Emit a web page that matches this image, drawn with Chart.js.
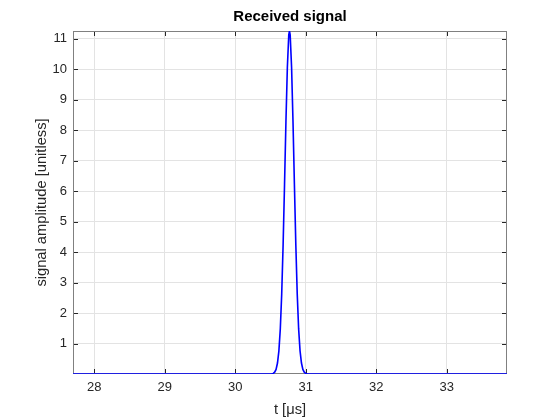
<!DOCTYPE html>
<html>
<head>
<meta charset="utf-8">
<script src="https://cdn.jsdelivr.net/npm/chart.js@4"></script>
<style>
  html, body { margin: 0; background: #fff; }
</style>
</head>
<body>
<canvas id="chart" width="560" height="420"></canvas>
<script>
// time axis [µs] and received amplitude
const tValues = [27.70, 30.48, 30.50, 30.52, 30.54, 30.56, 30.58, 30.60, 30.62, 30.64,
                 30.66, 30.68, 30.70, 30.72, 30.74, 30.76, 30.77, 30.78, 30.80, 30.82,
                 30.84, 30.86, 30.88, 30.90, 30.92, 30.94, 30.96, 30.98, 31.00, 31.02,
                 31.04, 31.06, 33.855];
const amplitude = [0, 0, 0.002, 0.006, 0.02, 0.06, 0.15, 0.36, 0.76, 1.48,
                   2.63, 4.25, 6.22, 8.29, 10.06, 11.13, 11.26, 11.13, 10.06, 8.29,
                   6.22, 4.25, 2.63, 1.48, 0.76, 0.36, 0.15, 0.06, 0.02, 0.006,
                   0.002, 0, 0];
const xTicks = [28, 29, 30, 31, 32, 33];
const yTicks = [1, 2, 3, 4, 5, 6, 7, 8, 9, 10, 11];
const xLimits = [27.70, 33.855];
const yLimits = [0, 11.26];

const FONT = "'Liberation Sans', Arial, Helvetica, sans-serif";
const AXIS_COLOR = "#262626";

// MATLAB-like box with inward ticks
const boxPlugin = {
    id: "box",
    beforeDatasetsDraw(chart) {
        const { ctx, chartArea: a, scales } = chart;
        ctx.save();
        ctx.strokeStyle = "#262626";
        ctx.lineWidth = 1;
        ctx.beginPath();
        xTicks.forEach(v => {
            const px = Math.round(scales.x.getPixelForValue(v)) + 0.5;
            ctx.moveTo(px, a.bottom); ctx.lineTo(px, a.bottom - 5);
            ctx.moveTo(px, a.top); ctx.lineTo(px, a.top + 5);
        });
        yTicks.forEach(v => {
            const py = Math.round(scales.y.getPixelForValue(v)) + 0.5;
            ctx.moveTo(a.left, py); ctx.lineTo(a.left + 5, py);
            ctx.moveTo(a.right, py); ctx.lineTo(a.right - 5, py);
        });
        ctx.stroke();
        ctx.strokeStyle = "#808080";
        ctx.strokeRect(Math.round(a.left) + 0.5, Math.round(a.top) + 0.5,
                       Math.round(a.width) - 1, Math.round(a.height) - 1);
        ctx.restore();
    },
};

new Chart(document.getElementById("chart"), {
    type: "line",
    data: {
        datasets: [{
            data: tValues.map((t, i) => ({ x: t, y: amplitude[i] })),
            borderColor: "#0000ff",
            borderWidth: 1.6,
            pointRadius: 0,
            tension: 0,
            fill: false,
        }],
    },
    options: {
        responsive: false,
        animation: false,
        devicePixelRatio: 1,
        layout: { padding: { left: 0, right: 53, top: 0, bottom: 0 } },
        plugins: {
            legend: { display: false },
            tooltip: { enabled: false },
            title: {
                display: true,
                fullSize: false,
                text: "Received signal",
                color: "#000",
                font: { family: FONT, size: 15, weight: "bold" },
                padding: { top: 8, bottom: 5 },
            },
        },
        scales: {
            x: {
                type: "linear",
                min: xLimits[0],
                max: xLimits[1],
                afterBuildTicks: s => { s.ticks = xTicks.map(v => ({ value: v })); },
                afterFit: s => { s.height = 46; },
                grid: { color: "#e3e3e3", drawTicks: false },
                border: { display: false },
                ticks: {
                    color: AXIS_COLOR,
                    font: { family: FONT, size: 13 },
                    padding: 6,
                    maxRotation: 0,
                    callback: v => String(v),
                },
                title: {
                    display: true,
                    text: "t [\u03bcs]",
                    color: AXIS_COLOR,
                    font: { family: FONT, size: 14.7 },
                    padding: { top: 0, bottom: 1 },
                },
            },
            y: {
                min: yLimits[0],
                max: yLimits[1],
                afterBuildTicks: s => { s.ticks = yTicks.map(v => ({ value: v })); },
                afterFit: s => { s.width = 73; },
                grid: { color: "#e3e3e3", drawTicks: false },
                border: { display: false },
                ticks: {
                    color: AXIS_COLOR,
                    font: { family: FONT, size: 13 },
                    padding: 6,
                    callback: v => String(v),
                },
                title: {
                    display: true,
                    text: "signal amplitude [unitless]",
                    color: AXIS_COLOR,
                    font: { family: FONT, size: 14.7 },
                    padding: { top: 33, bottom: 0 },
                },
            },
        },
    },
    plugins: [boxPlugin],
});
</script>
</body>
</html>
